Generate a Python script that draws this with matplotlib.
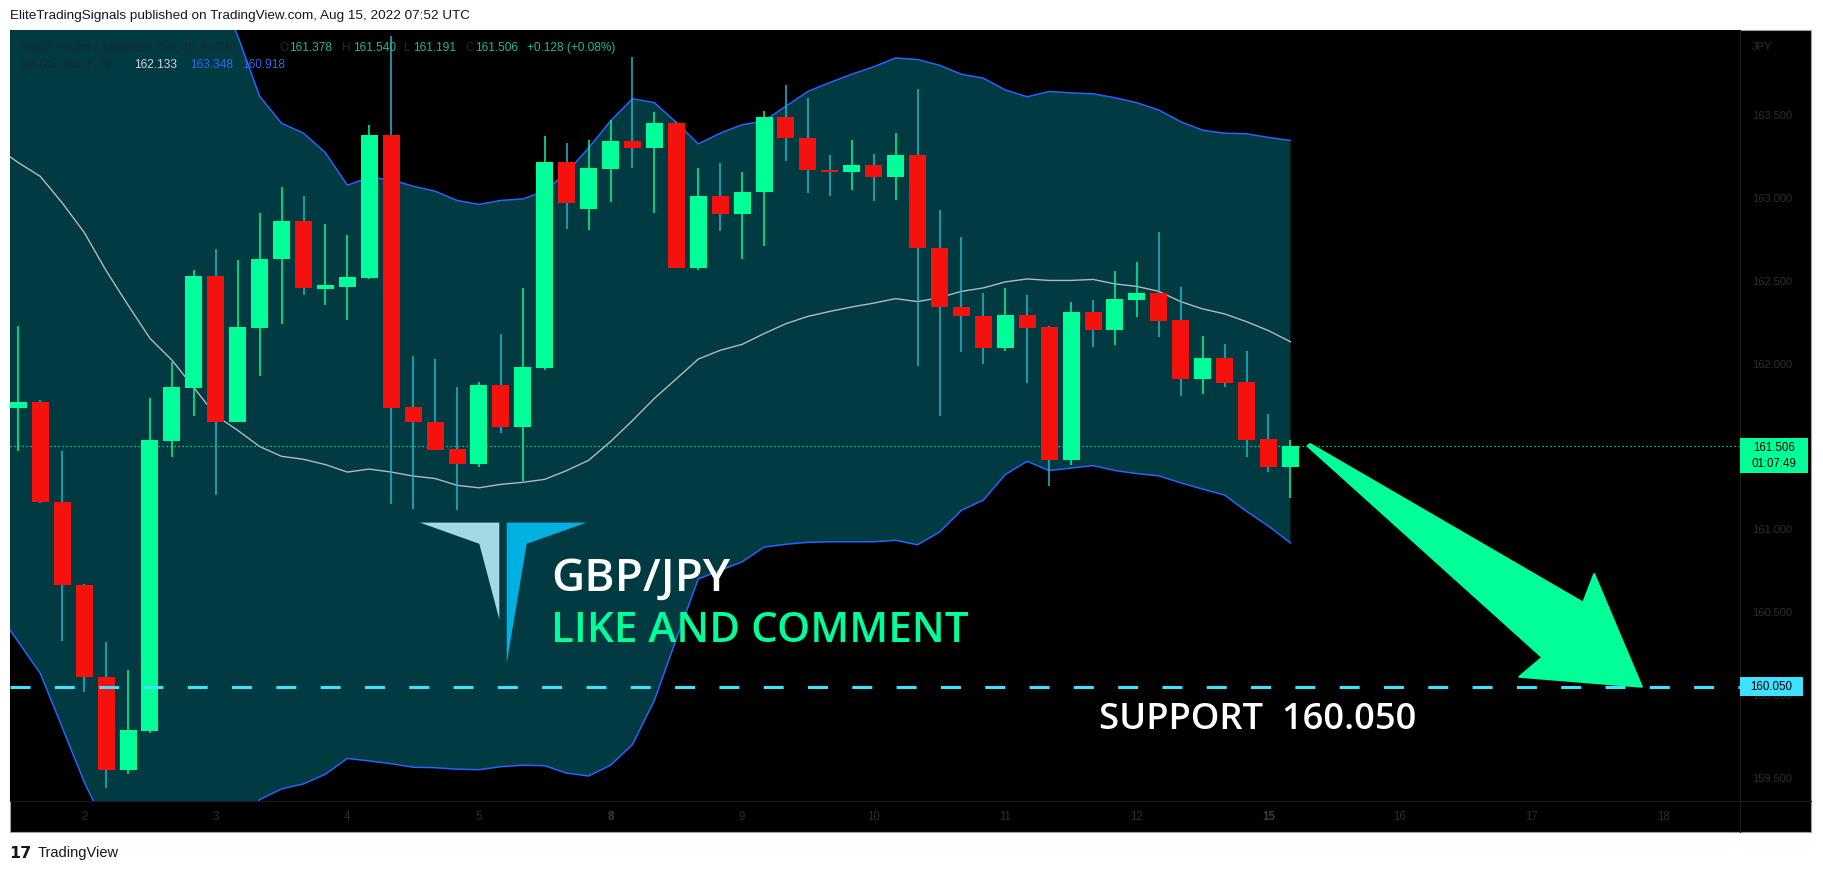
import matplotlib
matplotlib.use('Agg')
import matplotlib.pyplot as plt
from matplotlib.patches import Rectangle, Polygon
from matplotlib.lines import Line2D
import numpy as np

# ---------------- data (GBP/JPY 4h, FXCM) ----------------
opens = [161.732, 161.767, 161.163, 160.662, 160.110, 159.550, 159.784, 161.536, 161.853, 162.529,
         161.646, 162.218, 162.630, 162.862, 162.452, 162.464, 162.518, 163.380, 161.738, 161.649,
         161.486, 161.394, 161.871, 161.619, 161.975, 163.217, 162.933, 163.176, 163.345, 163.303,
         163.455, 162.577, 163.013, 162.906, 163.034, 163.490, 163.363, 163.170, 163.155, 163.200,
         163.125, 163.259, 162.699, 162.343, 162.289, 162.096, 162.295, 162.221, 161.418, 162.313,
         162.203, 162.384, 162.426, 162.263, 161.906, 162.034, 161.889, 161.545, 161.378]
highs = [162.227, 161.782, 161.474, 160.673, 160.321, 160.151, 161.794, 162.011, 162.568, 162.693,
         162.627, 162.912, 163.066, 163.013, 162.844, 162.779, 163.443, 163.979, 162.046, 162.028,
         161.859, 161.889, 162.177, 162.458, 163.375, 163.333, 163.348, 163.472, 163.852, 163.520,
         163.458, 163.179, 163.214, 163.155, 163.526, 163.680, 163.606, 163.259, 163.351, 163.265,
         163.392, 163.659, 162.927, 162.764, 162.426, 162.458, 162.414, 162.227, 162.372, 162.387,
         162.559, 162.615, 162.796, 162.464, 162.167, 162.120, 162.076, 161.696, 161.540]
lows = [161.474, 161.160, 160.324, 160.021, 159.440, 159.520, 159.769, 161.438, 161.684, 161.210,
        161.646, 161.928, 162.242, 162.414, 162.355, 162.266, 162.512, 161.154, 161.124, 161.480,
        161.115, 161.376, 161.581, 161.293, 161.960, 162.811, 162.808, 162.977, 163.182, 162.909,
        162.578, 162.568, 162.799, 162.630, 162.710, 163.226, 163.028, 163.010, 163.051, 162.980,
        162.986, 161.984, 161.687, 162.073, 161.996, 162.079, 161.886, 161.263, 161.388, 162.099,
        162.114, 162.283, 162.162, 161.806, 161.818, 161.859, 161.438, 161.349, 161.191]
closes = [161.767, 161.163, 160.662, 160.110, 159.550, 159.790, 161.539, 161.859, 162.529, 161.646,
          162.221, 162.633, 162.862, 162.455, 162.473, 162.524, 163.380, 161.735, 161.646, 161.480,
          161.394, 161.871, 161.619, 161.981, 163.217, 162.968, 163.182, 163.345, 163.303, 163.455,
          162.580, 163.013, 162.906, 163.037, 163.490, 163.360, 163.167, 163.155, 163.200, 163.125,
          163.259, 162.696, 162.340, 162.286, 162.096, 162.295, 162.218, 161.420, 162.313, 162.203,
          162.390, 162.426, 162.257, 161.906, 162.034, 161.886, 161.542, 161.379, 161.506]

# Bollinger Bands (25, low, 2, 0), bar -1 .. 58
bb_upper = [166.09, 166.10, 166.13, 166.14, 166.11, 165.92, 165.71, 165.46, 165.24, 164.80,
            164.30, 163.98, 163.615, 163.452, 163.392, 163.274, 163.078, 163.125, 163.111, 163.072,
            163.042, 162.986, 162.962, 162.986, 162.995, 163.042, 163.155, 163.303, 163.466, 163.600,
            163.576, 163.457, 163.327, 163.392, 163.443, 163.466, 163.555, 163.644, 163.698, 163.748,
            163.793, 163.846, 163.837, 163.802, 163.748, 163.724, 163.653, 163.612, 163.644, 163.635,
            163.630, 163.606, 163.576, 163.532, 163.461, 163.410, 163.392, 163.389, 163.366, 163.348]
bb_basis = [163.306, 163.214, 163.131, 162.971, 162.793, 162.562, 162.354, 162.153, 162.022, 161.856,
            161.687, 161.598, 161.500, 161.441, 161.423, 161.391, 161.346, 161.364, 161.346, 161.322,
            161.307, 161.266, 161.251, 161.272, 161.284, 161.302, 161.355, 161.417, 161.530, 161.657,
            161.791, 161.909, 162.028, 162.081, 162.117, 162.182, 162.242, 162.286, 162.316, 162.343,
            162.366, 162.393, 162.375, 162.399, 162.437, 162.458, 162.494, 162.512, 162.503, 162.503,
            162.509, 162.482, 162.467, 162.437, 162.375, 162.331, 162.301, 162.254, 162.200, 162.133]
bb_lower = [160.51, 160.32, 160.13, 159.804, 159.475, 159.20, 159.00, 158.85, 158.80, 158.85,
            158.95, 159.15, 159.368, 159.433, 159.463, 159.522, 159.617, 159.602, 159.585, 159.564,
            159.561, 159.552, 159.549, 159.567, 159.576, 159.573, 159.528, 159.511, 159.576, 159.701,
            159.968, 160.338, 160.700, 160.753, 160.804, 160.893, 160.910, 160.922, 160.925, 160.925,
            160.925, 160.934, 160.907, 160.984, 161.115, 161.177, 161.331, 161.411, 161.355, 161.370,
            161.385, 161.355, 161.337, 161.323, 161.281, 161.243, 161.207, 161.109, 161.020, 160.918]

day_tick_bars = [3, 9, 15, 21, 27, 33, 39, 45, 51, 57, 63, 69, 75]
day_labels = ['2', '3', '4', '5', '8', '9', '10', '11', '12', '15', '16', '17', '18']
week_start_labels = ['8', '15']
price_ticks = [159.5, 160.0, 160.5, 161.0, 161.5, 162.0, 162.5, 163.0, 163.5]
support_level = 160.050
last_price = closes[-1]
countdown = '01:07:49'

# arrow outline (bar index, price)
arrow_bars = [58.90, 71.35, 71.85, 74.02, 68.44, 69.49, 58.79]
arrow_prices = [161.515, 160.557, 160.730, 160.050, 160.110, 160.227, 161.503]

# ---------------- figure ----------------
W, H = 1823, 872
fig = plt.figure(figsize=(W / 100, H / 100), dpi=100, facecolor='white')

def fx(x):
    return x / W

def fy(y):
    return 1 - y / H

L, R, T, B = 10, 1740, 30, 801
XMIN, XMAX = -0.383, 78.5
YMIN, YMAX = 159.360, 164.015

def ypix(p):
    return T + (YMAX - p) / (YMAX - YMIN) * (B - T)

# black chart panel incl. axes
fig.patches.append(Rectangle((fx(10), fy(832)), (1811 - 10) / W, (832 - 30) / H,
                             transform=fig.transFigure, facecolor='black',
                             edgecolor='#9aa0a8', lw=0.8, zorder=-5))

ax = fig.add_axes([fx(L), fy(B), (R - L) / W, (B - T) / H])
ax.set_facecolor('black')
ax.set_xlim(XMIN, XMAX)
ax.set_ylim(YMIN, YMAX)
for s in ax.spines.values():
    s.set_visible(False)

GREEN = '#00ff99'
RED = '#f5120e'
UPWICK = '#00ff99'
DNWICK = '#1fb8cc'

bx = np.arange(-1, len(bb_basis) - 1)
ax.fill_between(bx, bb_lower, bb_upper, color='#023a42', lw=0, zorder=1)
ax.plot(bx, bb_upper, color='#2962ff', lw=1.1, zorder=2)
ax.plot(bx, bb_lower, color='#2962ff', lw=1.1, zorder=2)
ax.plot(bx, bb_basis, color='#b5b8be', lw=1.0, zorder=2)

o = np.array(opens); h = np.array(highs); lo = np.array(lows); c = np.array(closes)
idx = np.arange(len(o))
up = c >= o
ax.vlines(idx, lo, h, colors=[UPWICK if u else DNWICK for u in up], lw=1.1, zorder=3)
ax.bar(idx, np.abs(c - o), bottom=np.minimum(o, c), width=0.775,
       color=[GREEN if u else RED for u in up], lw=0, zorder=4)

# price lines
ax.axhline(last_price, color=GREEN, lw=0.9, ls=(0, (1, 2.2)), zorder=2.5)
lw_s = 2.2
ax.axhline(support_level, color='#3ee2fc', lw=lw_s, ls=(0, (14.4 / lw_s, 17.5 / lw_s)), zorder=5)

ax.add_patch(Polygon(list(zip(arrow_bars, arrow_prices)), closed=True, facecolor=GREEN,
                     edgecolor=GREEN, lw=1.5, joinstyle='round', zorder=6))

# axes ticks
ax.yaxis.tick_right()
ax.set_yticks(price_ticks)
ax.set_yticklabels(['%.3f' % v for v in price_ticks])
ax.tick_params(axis='y', length=0, pad=8.6, colors='#2c2e33', labelsize=8)
for t in ax.get_yticklabels():
    t.set_fontfamily('Liberation Sans')
ax.set_xticks(day_tick_bars)
ax.set_xticklabels(day_labels)
ax.tick_params(axis='x', length=0, pad=7.5, colors='#2c2e33', labelsize=8.3)
for t in ax.get_xticklabels():
    t.set_fontfamily('Liberation Sans')
    if t.get_text() in week_start_labels:
        t.set_fontweight('bold')
        t.set_color('#3a3c42')

# separators
fig.add_artist(Line2D([fx(1740), fx(1740)], [fy(30), fy(832)], color='#1c1c1e', lw=0.8, zorder=7))
fig.add_artist(Line2D([fx(10), fx(1811)], [fy(801), fy(801)], color='#1c1c1e', lw=0.8, zorder=7))

# price axis labels
yl = ypix(last_price)
fig.add_artist(Rectangle((fx(1740), fy(yl + 27)), 68 / W, 35 / H, transform=fig.transFigure,
                         facecolor=GREEN, lw=0, zorder=8))
fig.text(fx(1774), fy(yl + 2), '%.3f' % last_price, ha='center', va='center', fontsize=8.3,
         family='Liberation Sans', color='black', zorder=9)
fig.text(fx(1774), fy(yl + 18), countdown, ha='center', va='center', fontsize=8.3,
         family='Liberation Sans', color='black', zorder=9)
ys = ypix(support_level)
fig.add_artist(Rectangle((fx(1740), fy(ys + 9.5)), 63 / W, 19 / H, transform=fig.transFigure,
                         facecolor='#3ee2fc', lw=0, zorder=8))
fig.text(fx(1771), fy(ys), '%.3f' % support_level, ha='center', va='center', fontsize=8.3,
         family='Liberation Sans', color='black', zorder=9)
fig.text(fx(1752), fy(47), 'JPY', ha='left', va='center', fontsize=8, family='Liberation Sans',
         color='#2c2e33', zorder=9)

# legend
DIM = '#1b2a31'
TEAL = '#20b89a'
fs_leg = 8.6
def lt(x, y, s, col):
    fig.text(fx(x), fy(y), s, ha='left', va='center', fontsize=fs_leg, family='Liberation Sans',
             color=col, zorder=9)
lt(20, 48, 'British Pound / Japanese Yen, 4h, FXCM', DIM)
lt(279, 48, 'O', DIM); lt(289, 48, '%.3f' % opens[-1], TEAL)
lt(342, 48, 'H', DIM); lt(353, 48, '%.3f' % highs[-1], TEAL)
lt(404, 48, 'L', DIM); lt(413, 48, '%.3f' % lows[-1], TEAL)
lt(465, 48, 'C', DIM); lt(475, 48, '%.3f' % closes[-1], TEAL)
lt(527, 48, '+0.128 (+0.08%)', TEAL)
lt(20, 65, 'BB (25, low, 2, 0)', DIM)
lt(134, 65, '%.3f' % bb_basis[-1], '#d1d4dc')
lt(190, 65, '%.3f' % bb_upper[-1], '#2e6bf0')
lt(242, 65, '%.3f' % bb_lower[-1], '#2e6bf0')

# logo
light = [(420, 522.6), (499.3, 522.6), (499.3, 619.4), (479.3, 543.8)]
blue = [(506.7, 522.6), (586.7, 522.6), (526.7, 543.8), (506.7, 663.6)]
for pts, col in ((light, '#a3d9e3'), (blue, '#00b0e0')):
    fig.add_artist(Polygon([(fx(x), fy(y)) for x, y in pts], closed=True, transform=fig.transFigure,
                           facecolor=col, lw=0, zorder=8))

fig.text(fx(551), fy(591), 'GBP/JPY', ha='left', va='baseline', fontsize=33, family='Open Sans',
         weight='semibold', color='white', zorder=9)
fig.text(fx(551), fy(641.5), 'LIKE AND COMMENT', ha='left', va='baseline', fontsize=30.3,
         family='Open Sans', weight='semibold', color=GREEN, zorder=9)
fig.text(fx(1099), fy(728.5), 'SUPPORT  %.3f' % support_level, ha='left', va='baseline', fontsize=26.2,
         family='Open Sans', weight='semibold', color='white', zorder=9)

# header / footer
fig.text(fx(10), fy(16), 'EliteTradingSignals published on TradingView.com, Aug 15, 2022 07:52 UTC',
         ha='left', va='center', fontsize=9.7, family='Liberation Sans', color='#131722')
fig.text(fx(9), fy(853), '17', ha='left', va='center', fontsize=11.5, family='DejaVu Sans',
         weight='heavy', color='#131722')
fig.text(fx(38), fy(853), 'TradingView', ha='left', va='center', fontsize=10.5,
         family='Liberation Sans', color='#131722')

fig.savefig('out.png', dpi=100, facecolor='white')
